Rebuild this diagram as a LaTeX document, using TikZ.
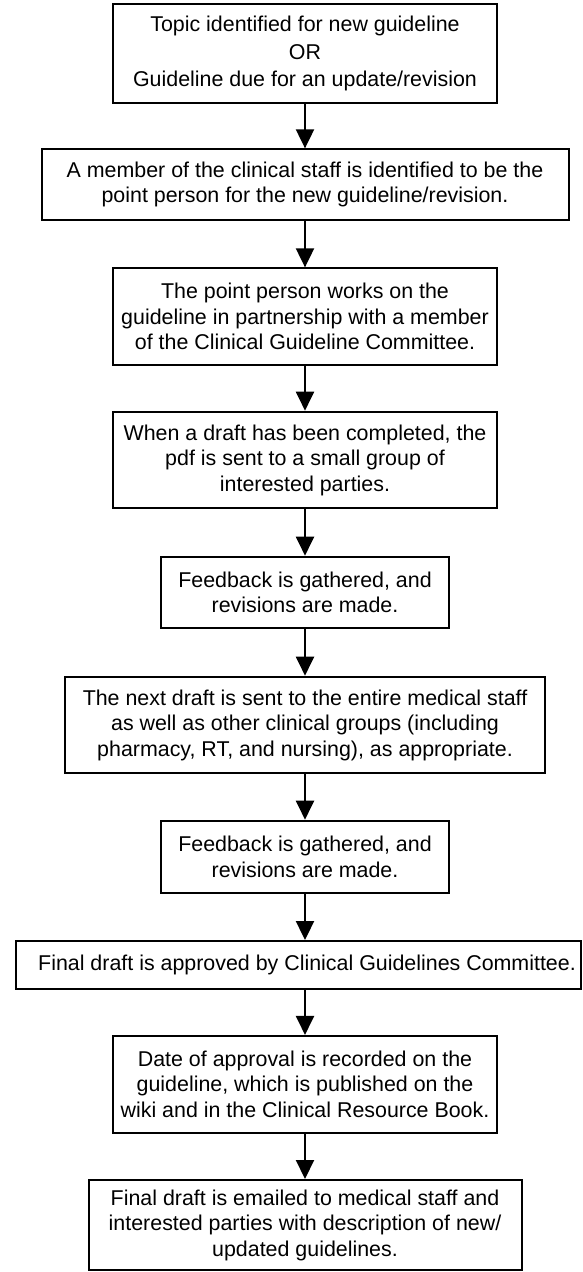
\documentclass[tikz,border=0pt]{standalone}
\usepackage{fontspec}
\setmainfont{Liberation Sans}
\usetikzlibrary{arrows.meta}
\begin{document}
\begin{tikzpicture}[x=1pt,y=-1pt,
  box/.style={draw=black, line width=2pt, fill=white, align=center, inner sep=0pt,
    font=\fontsize{21.4}{25.5}\selectfont},
  flow/.style={-{Triangle[length=19pt,width=18pt]}, line width=2pt}]
\useasboundingbox (0,0) rectangle (583,1272);
\node[box, minimum width=384.6pt, minimum height=99pt] (b1) at (305,53.5)
  {Topic identified for new guideline\\[2pt] OR\\[2pt] Guideline due for an update/revision};
\node[box, minimum width=527pt, minimum height=70.7pt] (b2) at (305,184.7)
  {A member of the clinical staff is identified to be the\\ point person for the new guideline/revision.};
\node[box, minimum width=384.6pt, minimum height=96.7pt] (b3) at (305,316.7)
  {The point person works on the\\ guideline in partnership with a member\\ of the Clinical Guideline Committee.};
\node[box, minimum width=384.6pt, minimum height=96.6pt] (b4) at (305,460)
  {When a draft has been completed, the\\ pdf is sent to a small group of\\ interested parties.};
\node[box, minimum width=288.8pt, minimum height=71.6pt] (b5) at (305,592.5)
  {Feedback is gathered, and\\ revisions are made.};
\node[box, minimum width=480pt, minimum height=96.6pt] (b6) at (305,725)
  {The next draft is sent to the entire medical staff\\ as well as other clinical groups (including\\ pharmacy, RT, and nursing), as appropriate.};
\node[box, minimum width=288.8pt, minimum height=72.6pt] (b7) at (305,857)
  {Feedback is gathered, and\\ revisions are made.};
\node[box, minimum width=565pt, minimum height=48.3pt] (b8) at (298.5,965.2)
  {\makebox[0pt]{\hspace*{17pt}Final draft is approved by Clinical Guidelines Committee.}};
\node[box, minimum width=384.6pt, minimum height=96.7pt] (b9) at (305,1084.3)
  {Date of approval is recorded on the\\ guideline, which is published on the\\ wiki and in the Clinical Resource Book.};
\node[box, minimum width=433pt, minimum height=90pt] (b10) at (305,1225)
  {Final draft is emailed to medical staff and\\ interested parties with description of new/\\ updated guidelines.};
\draw[flow] (b1.south) -- (b2.north);
\draw[flow] (b2.south) -- (b3.north);
\draw[flow] (b3.south) -- (b4.north);
\draw[flow] (b4.south) -- (b5.north);
\draw[flow] (b5.south) -- (b6.north);
\draw[flow] (b6.south) -- (b7.north);
\draw[flow] (b7.south) -- (b8.north -| b7.south);
\draw[flow] (b8.south -| b9.north) -- (b9.north);
\draw[flow] (b9.south) -- (b10.north);
\end{tikzpicture}
\end{document}
